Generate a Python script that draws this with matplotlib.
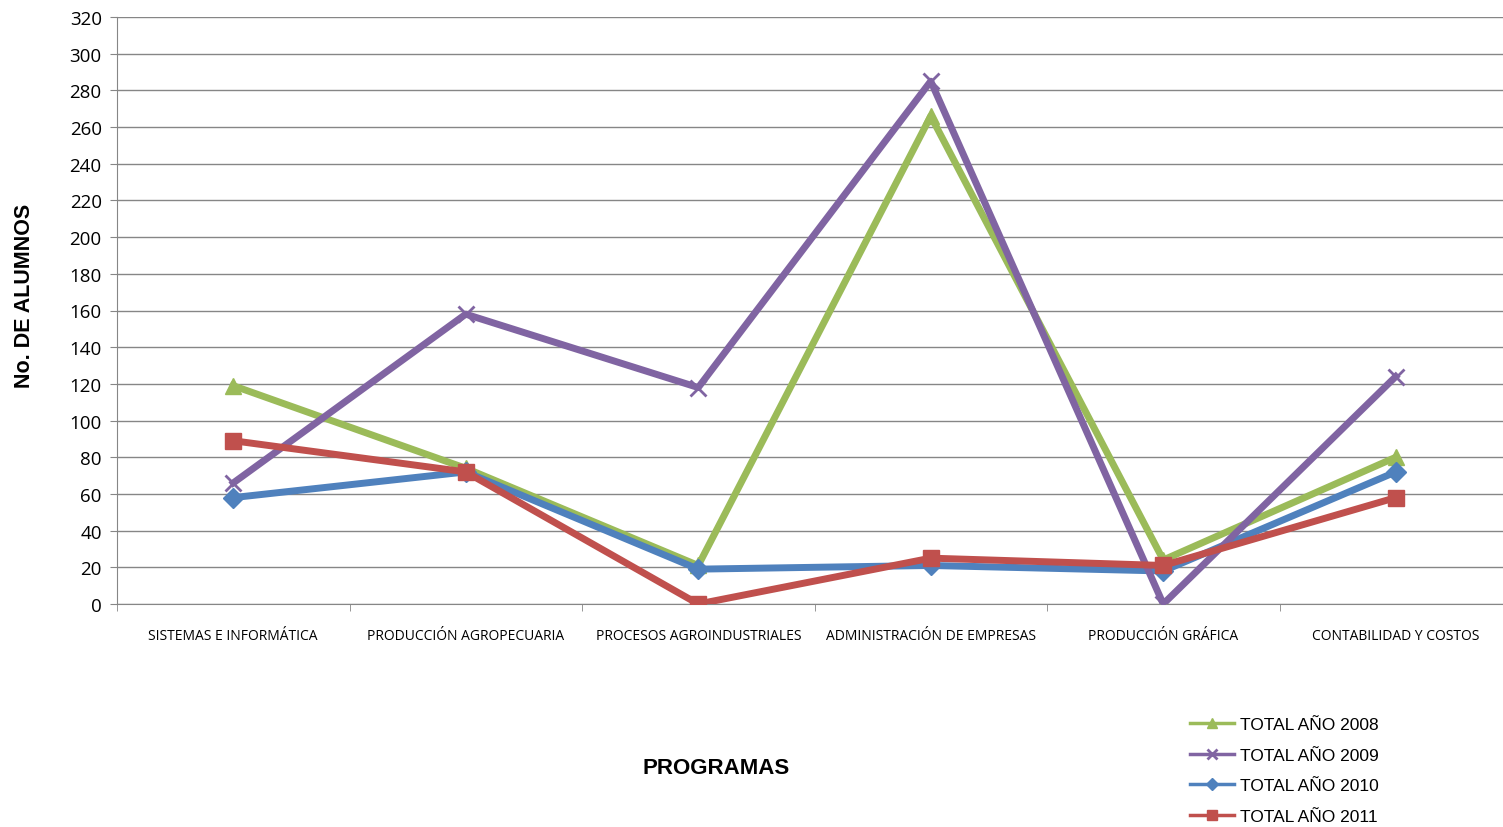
import numpy as np
import matplotlib
matplotlib.use('Agg')
import matplotlib.pyplot as plt

programas = ["SISTEMAS E INFORMÁTICA", "PRODUCCIÓN AGROPECUARIA", "PROCESOS AGROINDUSTRIALES",
             "ADMINISTRACIÓN DE EMPRESAS", "PRODUCCIÓN GRÁFICA", "CONTABILIDAD Y COSTOS"]
total_2008 = [119, 74, 21, 266, 24, 80]
total_2009 = [66, 158, 118, 285, 0, 124]
total_2010 = [58, 72, 19, 21, 18, 72]
total_2011 = [89, 72, 0, 25, 21, 58]

fig = plt.figure(figsize=(15.03, 8.28), dpi=100)
ax = fig.add_axes([117/1503, 223/828, 1395/1503, 587/828])

x = np.arange(len(programas))
lw = 5
ax.plot(x, total_2008, color='#9BBB59', lw=lw, marker='^', ms=12, label='TOTAL AÑO 2008', zorder=3)
ax.plot(x, total_2009, color='#8064A2', lw=lw, marker='x', ms=12, mew=2, label='TOTAL AÑO 2009', zorder=4)
ax.plot(x, total_2010, color='#4F81BD', lw=lw, marker='D', ms=10, label='TOTAL AÑO 2010', zorder=3)
ax.plot(x, total_2011, color='#C0504D', lw=lw, marker='s', ms=12, label='TOTAL AÑO 2011', zorder=5)

ax.set_xlim(-0.5, 5.5)
ax.set_ylim(0, 320)
ax.set_yticks(np.arange(0, 321, 20))
ax.set_xticks(x)
ax.set_xticklabels(programas, fontsize=10, family='Open Sans')
ax.set_xticks(np.arange(-0.5, 6, 1), minor=True)
ax.tick_params(axis='x', which='major', length=0, pad=17)
ax.tick_params(axis='x', which='minor', length=5, color='#868686', direction='out')
ax.tick_params(axis='y', length=5, color='#868686', labelsize=13.5, pad=6)
for lab in ax.get_yticklabels():
    lab.set_family('Open Sans')

ax.grid(axis='y', color='#868686', lw=1)
ax.set_axisbelow(True)
for s in ['top', 'right']:
    ax.spines[s].set_visible(False)
for s in ['left', 'bottom']:
    ax.spines[s].set_color('#868686')

fig.text(25/1503, 1 - 296/828, 'No. DE ALUMNOS', rotation=90, fontsize=15.5, fontweight='bold',
         ha='center', va='center', family='Liberation Sans')
fig.text(716/1503, 1 - 769/828, 'PROGRAMAS', fontsize=16, fontweight='bold',
         ha='center', va='center', family='Liberation Sans')

leg = fig.legend(loc='upper left', bbox_to_anchor=(1178/1503, 1 - 706/828), frameon=False,
                 prop={'family': 'Liberation Sans', 'size': 12.5}, handlelength=2.5,
                 labelspacing=0.88, markerscale=0.6, handletextpad=0.35, borderpad=0.2)
for h in leg.get_lines():
    h.set_linewidth(2.5)

fig.savefig('out.png', dpi=100)
